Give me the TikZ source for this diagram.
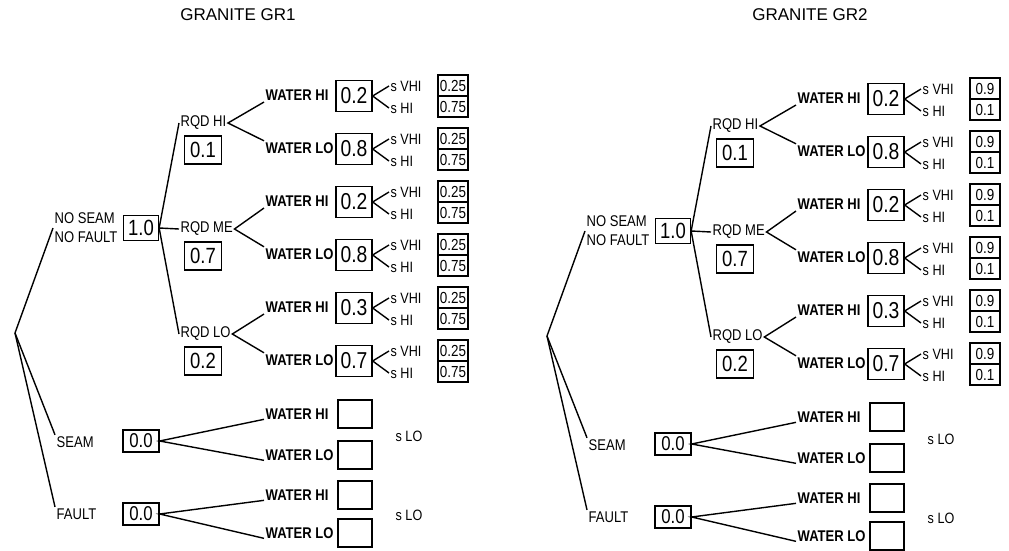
\documentclass[tikz,border=0pt]{standalone}
\usepackage{fontspec}
\setmainfont{Liberation Sans}
\newfontfamily\lett[FakeStretch=0.84]{Liberation Sans}
\begin{document}
\begin{tikzpicture}[x=1pt, y=-1pt, line width=1.4pt,
        ttl/.style={font=\fontsize{17}{19}\selectfont, inner sep=1pt},
        lbl/.style={font=\lett\fontsize{15.5}{19}\selectfont, inner sep=1pt, anchor=west},
        wlbl/.style={font=\lett\bfseries\fontsize{15.5}{17}\selectfont, inner sep=1pt, anchor=west},
        slbl/.style={font=\lett\fontsize{15}{16}\selectfont, inner sep=1pt, anchor=west},
        onebox/.style={draw, line width=1.3pt, minimum width=35pt, minimum height=25pt, inner sep=0pt, font=\lett\fontsize{22}{23}\selectfont},
        rbox/.style={draw, line width=1.3pt, minimum width=37pt, minimum height=28pt, inner sep=0pt, font=\lett\fontsize{22}{23}\selectfont},
        vbox/.style={draw, line width=1.3pt, minimum width=36pt, minimum height=31pt, inner sep=0pt, font=\lett\fontsize{23}{24}\selectfont},
        pbox/.style={draw, line width=1.3pt, minimum width=30pt, minimum height=21pt, inner sep=0pt, font=\lett\fontsize{16}{17}\selectfont},
        zbox/.style={draw, line width=1.3pt, minimum width=36pt, minimum height=22pt, inner sep=0pt, font=\lett\fontsize{20}{21}\selectfont},
        ebox/.style={draw, line width=1.3pt, minimum width=34pt, minimum height=28pt, inner sep=0pt}]
        \useasboundingbox (0,0) rectangle (1009,551);
        \foreach \t/\dx/\dy/\tx/\gr/\pa/\pb in {L/0/0/238/GR1/0.25/0.75, R/532/3/810/GR2/0.9/0.1} {
          % ---- 标题 ----
          \node[ttl] (\t-ttl) at (\tx, 15) {GRANITE \gr};
          % ---- 根 ----
          \coordinate (\t-root) at (15+\dx, 333+\dy);
          \node[lbl, align=left] (\t-nsnf) at (53+\dx, 228+\dy) {NO SEAM\\NO FAULT};
          \node[onebox] (\t-one) at (141+\dx, 228+\dy) {1.0};
          \node[lbl] (\t-seam) at (55+\dx, 442+\dy) {SEAM};
          \node[zbox] (\t-zs) at (141+\dx, 441+\dy) {0.0};
          \node[lbl] (\t-fault) at (55+\dx, 514+\dy) {FAULT};
          \node[zbox] (\t-zf) at (141+\dx, 514+\dy) {0.0};
          \draw (\t-root) -- (\t-nsnf.west);
          \draw (\t-root) -- (\t-seam.north west);
          \draw (\t-root) -- (\t-fault.north west);
          % ---- RQD ----
          \foreach \q/\y/\p in {HI/123/0.1, ME/229/0.7, LO/334/0.2} {
            \node[lbl] (\t-rqd\q) at (179+\dx, \y+\dy) {RQD \q};
            \node[rbox] (\t-rb\q) at (203+\dx, \y+27+\dy) {\p};
            \draw (\t-one.east) -- (\t-rqd\q.west);
          }
          % ---- WATER / s ----
          \foreach \i/\w/\v in {1/HI/0.2, 2/LO/0.8, 3/HI/0.2, 4/LO/0.8, 5/HI/0.3, 6/LO/0.7} {
            \pgfmathsetmacro\ry{96+53*(\i-1)+\dy}
            \node[wlbl] (\t-w\i) at (264+\dx, \ry-1) {WATER \w};
            \node[vbox] (\t-v\i) at (354+\dx, \ry) {\v};
            \node[slbl] (\t-sv\i) at (389+\dx, \ry-10) {s VHI};
            \node[slbl] (\t-sh\i) at (389+\dx, \ry+12) {s HI};
            \node[pbox] (\t-pa\i) at (453+\dx, \ry-10.5) {\pa};
            \node[pbox] (\t-pb\i) at (453+\dx, \ry+10.5) {\pb};
            \draw (\t-sv\i.west) -- (\t-v\i.east) -- (\t-sh\i.west);
          }
          \foreach \q/\a/\b in {HI/1/2, ME/3/4, LO/5/6}
            \draw (\t-w\a.south west) -- (\t-rqd\q.east) -- (\t-w\b.north west);
          % ---- SEAM / FAULT ----
          \foreach \g/\a/\b/\ya/\yb/\ys in {zs/7/8/414/455/436, zf/9/10/495/533/515} {
            \node[wlbl] (\t-w\a) at (264+\dx, \ya+\dy) {WATER HI};
            \node[ebox] (\t-e\a) at (355+\dx, \ya+\dy) {};
            \node[wlbl] (\t-w\b) at (264+\dx, \yb+\dy) {WATER LO};
            \node[ebox] (\t-e\b) at (355+\dx, \yb+\dy) {};
            \node[slbl] (\t-sl\a) at (394+\dx, \ys+\dy) {s LO};
            \draw (\t-w\a.base west) -- (\t-\g.east) -- (\t-w\b.base west);
          }
        }
\end{tikzpicture}
\end{document}
